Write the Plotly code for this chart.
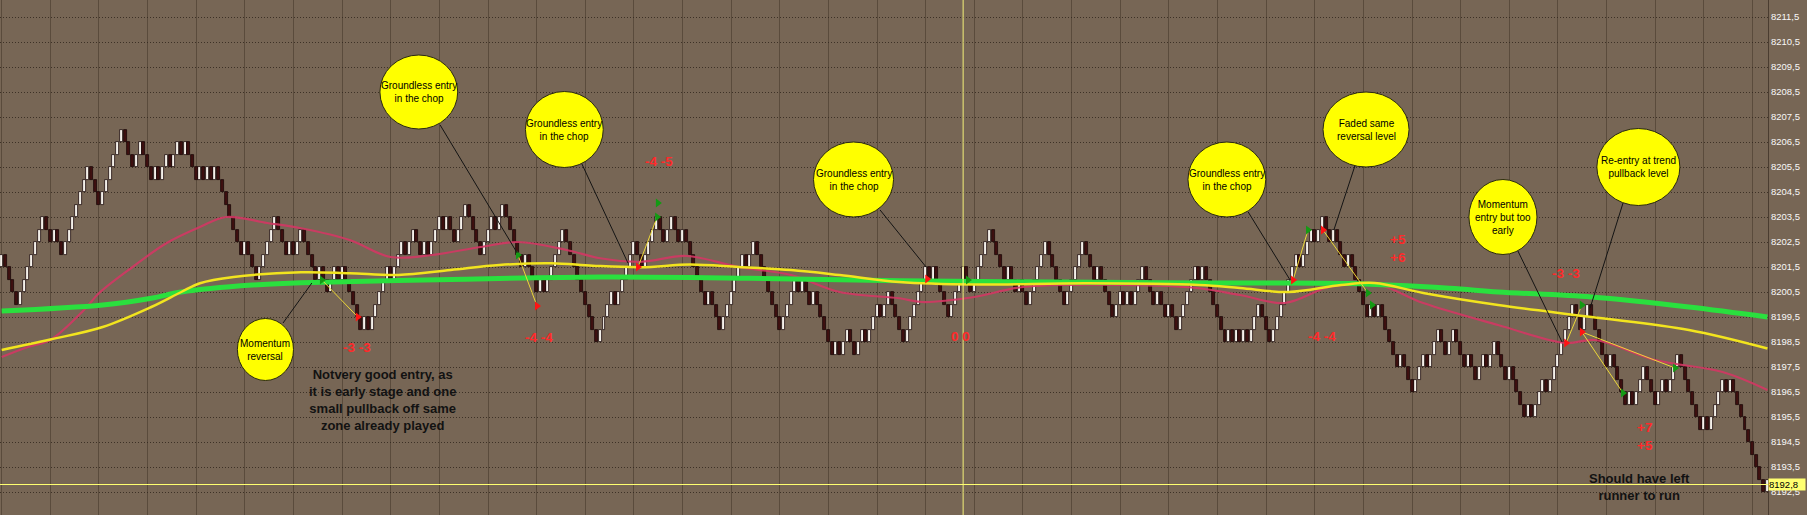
import plotly.graph_objects as go

# ---------------- data ----------------
BRICK = 0.5
BASE_PRICE = 8190.0
start_level = 23  # close level (in bricks above BASE_PRICE) before the first brick
# renko brick runs: +n = n up bricks, -n = n down bricks
brick_runs = [1, -4, 7, -2, 1, -2, 7, -3, 6, -3, 2, -3, 1, -1, 2, -1, 2, -1, 1, -3,
              1, -1, 1, -1, 1, -7, 1, -3, 5, -3, 1, -1, 2, -4, 1, -2, 2, -1, 1, -5,
              1, -1, 5, -1, 3, -1, 2, -2, 1, -1, 3, -1, 1, -2, 3, -4, 3, -1, 2, -5,
              1, -3, 1, -1, 5, -9, 4, -1, 5, -2, 4, -2, 2, -2, 1, -6, 1, -3, 6, -1,
              2, -7, 4, -1, 1, -2, 1, -5, 1, -1, 2, -2, 2, -1, 3, -1, 2, -4, 6, -1,
              1, -4, 4, -2, 5, -4, 1, -2, 1, -2, 5, -5, 5, -3, 1, -4, 2, -1, 1, -1,
              3, -3, 1, -2, 1, -2, 5, -1, 1, -6, 1, -1, 1, -1, 1, -1, 3, -3, 7, -1,
              3, -1, 2, -2, 1, -3, 1, -5, 1, -1, 1, -5, 1, -3, 3, -1, 3, -2, 2, -3,
              1, -2, 2, -1, 2, -3, 1, -4, 1, -1, 3, -1, 7, -2, 2, -5, 1, -4, 1, -1,
              3, -3, 2, -1, 3, -6, 1, -1, 4, -1, 1, -9, 1]

slow_ma_cols = [0, 27, 40, 48, 67, 80, 120, 160, 200, 240, 280, 320, 360, 387, 400, 425, 451, 472]
slow_ma_vals = [8199.74, 8199.98, 8200.25, 8200.5, 8200.78, 8200.87, 8201.0, 8201.1, 8201.05,
                8200.95, 8200.9, 8200.86, 8200.84, 8200.65, 8200.5, 8200.3, 8199.9, 8199.5]

mid_ma_cols = [0, 13, 27, 40, 48, 53, 62, 80, 93, 106, 120, 133, 147, 158, 171, 184, 197, 211,
               224, 240, 260, 290, 320, 331, 344, 358, 367, 380, 400, 425, 451, 472]
mid_ma_vals = [8198.18, 8198.6, 8199.1, 8199.9, 8200.5, 8200.85, 8201.1, 8201.29, 8201.25,
               8201.18, 8201.38, 8201.58, 8201.65, 8201.55, 8201.49, 8201.6, 8201.5, 8201.38,
               8201.18, 8200.9, 8200.8, 8200.85, 8200.78, 8200.66, 8200.5, 8200.78, 8200.86,
               8200.46, 8199.98, 8199.5, 8198.98, 8198.24]

fast_ma_cols = [0, 7, 13, 22, 26, 35, 44, 53, 60, 71, 80, 93, 104, 115, 128, 138, 151, 160, 171,
                183, 197, 211, 224, 240, 246, 260, 273, 300, 320, 331, 343, 355, 368, 380, 400,
                418, 426, 442, 460, 472]
fast_ma_vals = [8197.9, 8198.3, 8198.58, 8199.78, 8200.45, 8201.5, 8202.45, 8203.1, 8203.5,
                8203.26, 8203.05, 8202.58, 8201.9, 8201.98, 8202.3, 8202.5, 8202.18, 8201.85,
                8201.71, 8201.94, 8201.5, 8201.18, 8200.5, 8200.25, 8200.1, 8200.3, 8200.7,
                8200.78, 8200.65, 8200.38, 8200.06, 8200.7, 8200.78, 8200.06, 8199.18, 8198.46,
                8198.58, 8197.78, 8197.3, 8196.58]

y_tick_vals = [8192.5, 8193.5, 8194.5, 8195.5, 8196.5, 8197.5, 8198.5, 8199.5, 8200.5, 8201.5,
               8202.5, 8203.5, 8204.5, 8205.5, 8206.5, 8207.5, 8208.5, 8209.5, 8210.5, 8211.5]
y_tick_text = ["8192,5", "8193,5", "8194,5", "8195,5", "8196,5", "8197,5", "8198,5", "8199,5",
               "8200,5", "8201,5", "8202,5", "8203,5", "8204,5", "8205,5", "8206,5", "8207,5",
               "8208,5", "8209,5", "8210,5", "8211,5"]

current_price = 8192.8
current_price_text = "8192,8"
cursor_col = 257.0

# callout bubbles: (text, centre col, centre price, half-width cols, half-height price)
bubbles = [
    ("Momentum<br>reversal", 70.5, 8198.2, 7.5, 1.24),
    ("Groundless entry<br>in the chop", 111.5, 8208.5, 10.4, 1.48),
    ("Groundless entry<br>in the chop", 150.4, 8207.0, 10.4, 1.52),
    ("Groundless entry<br>in the chop", 227.7, 8205.0, 10.7, 1.5),
    ("Groundless entry<br>in the chop", 327.5, 8205.0, 10.4, 1.5),
    ("Faded same<br>reversal level", 364.7, 8207.0, 11.5, 1.5),
    ("Momentum<br>entry but too<br>early", 401.3, 8203.5, 9.1, 1.5),
    ("Re-entry at trend<br>pullback level", 437.5, 8205.5, 11.1, 1.54),
]
# pointer lines from bubbles: (col0, price0, col1, price1)
pointers = [
    (75.2, 8199.26, 82.9, 8200.86),
    (117.2, 8207.18, 137.8, 8202.06),
    (155.1, 8205.62, 167.4, 8201.66),
    (234.8, 8203.78, 247.1, 8201.5),
    (333.2, 8203.7, 344.4, 8200.98),
    (361.8, 8205.58, 356.1, 8202.98),
    (405.3, 8202.14, 417.1, 8198.5),
    (433.4, 8204.06, 424.6, 8199.86),
]
green_cols = [85.6, 138.0, 175.4, 175.2, 258.3, 349.2, 365.2, 366.3, 422.4, 433.4, 447.3]
green_prices = [8200.98, 8201.98, 8204.06, 8203.5, 8200.98, 8202.98, 8200.46, 8199.98, 8199.98,
                8196.46, 8197.46]
red_cols = [95.2, 143.1, 170.1, 247.4, 345.2, 353.2, 418.2, 422.4]
red_prices = [8199.5, 8199.94, 8201.5, 8201.02, 8200.98, 8202.98, 8198.46, 8198.9]
trades = [
    (85.6, 8200.98, 95.2, 8199.5),
    (138.0, 8201.98, 143.1, 8199.94),
    (170.1, 8201.5, 175.2, 8203.5),
    (345.2, 8200.98, 349.2, 8202.98),
    (353.2, 8202.98, 365.2, 8200.46),
    (418.2, 8198.46, 422.4, 8199.98),
    (422.4, 8198.9, 433.4, 8196.46),
    (422.4, 8198.9, 447.3, 8197.46),
]
results = [
    ("-3 -3", 95.0, 8198.3),
    ("-4 -4", 143.6, 8198.7),
    ("-4 -5", 175.7, 8205.74),
    ("0 0", 256.2, 8198.74),
    ("-4 -4", 352.9, 8198.74),
    ("+5<br>+6", 373.3, 8202.24),
    ("-3 -3", 418.2, 8201.26),
    ("+7<br>+5", 439.3, 8194.72),
]
comments = [
    ("Notvery good entry, as<br>it is early stage and one<br>small pullback off same<br>zone already played",
     101.9, 8196.2),
    ("Should have left<br>runner to run", 437.9, 8192.72),
]

# ---------------- build bricks ----------------
closes = []
lvl = start_level
for r in brick_runs:
    step = 1 if r > 0 else -1
    for _ in range(abs(r)):
        lvl += step
        closes.append(lvl)

up_x, up_base, dn_x, dn_base = [], [], [], []
prev = start_level
for i, c in enumerate(closes):
    bottom = BASE_PRICE + min(prev, c) * BRICK
    if c > prev:
        up_x.append(i); up_base.append(bottom)
    else:
        dn_x.append(i); dn_base.append(bottom)
    prev = c

BG = "#776655"
fig = go.Figure()
fig.add_trace(go.Bar(x=up_x, y=[BRICK] * len(up_x), base=up_base, width=0.8,
                     marker=dict(color="#f4f0ea", line=dict(color="#1e0c0c", width=0.8)),
                     hoverinfo="skip"))
fig.add_trace(go.Bar(x=dn_x, y=[BRICK] * len(dn_x), base=dn_base, width=0.8,
                     marker=dict(color="#3e1010", line=dict(color="#1a0808", width=0.8)),
                     hoverinfo="skip"))

fig.add_trace(go.Scatter(x=fast_ma_cols, y=fast_ma_vals, mode="lines",
                         line=dict(color="rgba(210,55,100,0.9)", width=2.2, shape="spline", smoothing=1)))
fig.add_trace(go.Scatter(x=slow_ma_cols, y=slow_ma_vals, mode="lines",
                         line=dict(color="#2ae03e", width=5, shape="spline", smoothing=1)))
fig.add_trace(go.Scatter(x=mid_ma_cols, y=mid_ma_vals, mode="lines",
                         line=dict(color="#f2e41e", width=2.5, shape="spline", smoothing=1)))

tx, ty = [], []
for c0, p0, c1, p1 in trades:
    tx += [c0, c1, None]; ty += [p0, p1, None]
fig.add_trace(go.Scatter(x=tx, y=ty, mode="lines", line=dict(color="#ecd838", width=1)))
fig.add_trace(go.Scatter(x=green_cols, y=green_prices, mode="markers",
                         marker=dict(symbol="triangle-right", size=8, color="#149a14")))
fig.add_trace(go.Scatter(x=red_cols, y=red_prices, mode="markers",
                         marker=dict(symbol="triangle-right", size=8, color="#ff1414")))

shapes = []
for c0, p0, c1, p1 in pointers:
    shapes.append(dict(type="line", xref="x", yref="y", x0=c0, y0=p0, x1=c1, y1=p1,
                       line=dict(color="#141414", width=1), layer="above"))
for text, cx, cy, dx, dy in bubbles:
    shapes.append(dict(type="circle", xref="x", yref="y", x0=cx - dx, x1=cx + dx,
                       y0=cy - dy, y1=cy + dy, fillcolor="#ffff00",
                       line=dict(color="#2a2a10", width=1), layer="above"))
shapes.append(dict(type="line", xref="x", yref="paper", x0=cursor_col, x1=cursor_col, y0=0, y1=1,
                   line=dict(color="#f4f07a", width=1), layer="above"))
shapes.append(dict(type="line", xref="paper", yref="y", x0=0, x1=1, y0=current_price, y1=current_price,
                   line=dict(color="#ffff70", width=1), layer="above"))

annotations = []
for text, cx, cy, dx, dy in bubbles:
    annotations.append(dict(x=cx, y=cy, xref="x", yref="y", text=text, showarrow=False,
                            font=dict(family="Liberation Sans", size=10, color="#000000")))
for text, cx, cy in results:
    annotations.append(dict(x=cx, y=cy, xref="x", yref="y", text="<b>" + text + "</b>", showarrow=False,
                            font=dict(family="Liberation Sans", size=13.5, color="#ff2a2a")))
for text, cx, cy in comments:
    annotations.append(dict(x=cx, y=cy, xref="x", yref="y", text="<b>" + text + "</b>", showarrow=False,
                            font=dict(family="Liberation Sans", size=13, color="#121212")))
annotations.append(dict(x=1, y=current_price, xref="paper", yref="y", xanchor="left", yanchor="middle",
                        text=current_price_text, showarrow=False, bgcolor="#ffff70",
                        width=36, height=11, align="left", borderpad=0,
                        font=dict(family="Liberation Sans", size=9.5, color="#000000")))

fig.update_layout(
    width=1807, height=515, margin=dict(l=0, r=39, t=0, b=0),
    paper_bgcolor=BG, plot_bgcolor=BG, showlegend=False,
    barmode="overlay", bargap=0, shapes=shapes, annotations=annotations,
    xaxis=dict(range=[-0.454, 472.15], tick0=0, dtick=13, showticklabels=False, ticks="",
               showgrid=True, gridcolor="rgba(78,64,50,0.7)", gridwidth=1, zeroline=False,
               fixedrange=True),
    yaxis=dict(range=[8191.58, 8212.18], side="right", tickmode="array", tickvals=y_tick_vals,
               ticktext=y_tick_text, ticks="", automargin=False,
               tickfont=dict(family="Liberation Sans", size=9.5, color="#f8f8f8"),
               showgrid=True, gridcolor="rgba(50,40,30,0.85)", griddash="1px,2px", gridwidth=1,
               showline=True, linecolor="#4a3c30", zeroline=False, fixedrange=True),
)

fig.write_html("out.html", config={"displayModeBar": False},
               post_script="document.body.style.margin='0px';document.body.style.overflow='hidden';")
